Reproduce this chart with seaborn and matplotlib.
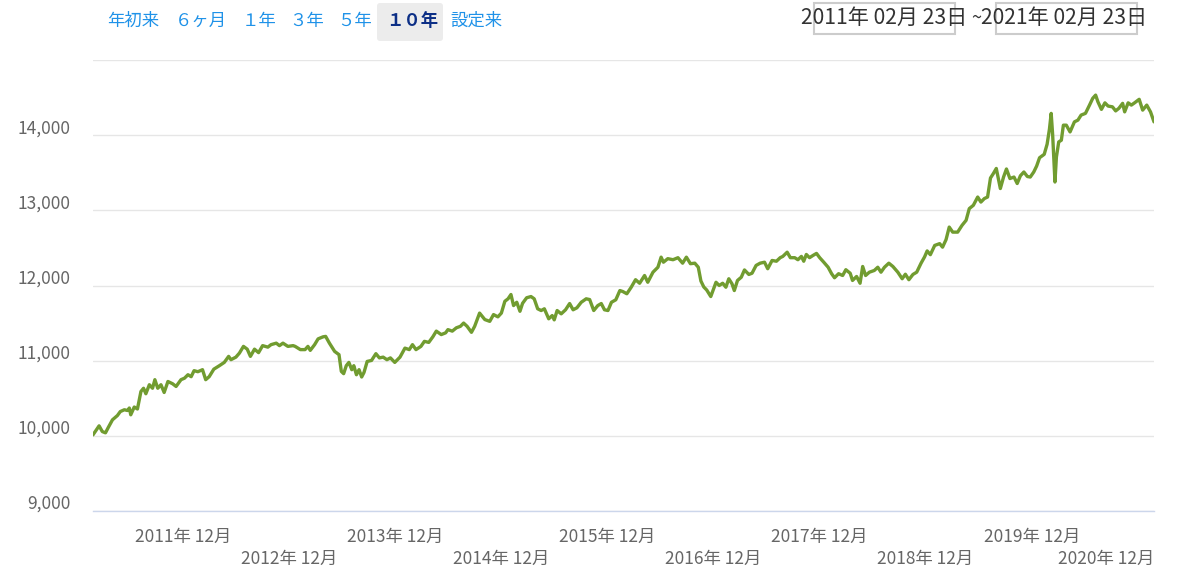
import numpy as np
import pandas as pd
import matplotlib
matplotlib.use("Agg")
import matplotlib.pyplot as plt
import matplotlib.transforms as mtransforms
from matplotlib.patches import FancyBboxPatch, Rectangle
from matplotlib.ticker import FuncFormatter
import seaborn as sns

# 基準価額
dates = [
    "2011-02-23", "2011-03-16", "2011-03-27", "2011-04-07", "2011-04-16", "2011-05-01", "2011-05-18",
    "2011-05-28", "2011-06-11", "2011-06-22", "2011-06-28", "2011-07-03", "2011-07-15", "2011-07-26",
    "2011-08-07", "2011-08-16", "2011-08-24", "2011-09-05", "2011-09-16", "2011-09-24", "2011-10-04",
    "2011-10-15", "2011-10-26", "2011-11-08", "2011-11-24", "2011-12-06", "2011-12-23", "2012-01-04",
    "2012-01-16", "2012-01-27", "2012-02-06", "2012-02-19", "2012-03-06", "2012-03-17", "2012-03-29",
    "2012-04-14", "2012-05-03", "2012-05-20", "2012-06-04", "2012-06-12", "2012-06-29", "2012-07-11",
    "2012-07-25", "2012-08-07", "2012-08-18", "2012-09-01", "2012-09-15", "2012-09-29", "2012-10-17",
    "2012-10-28", "2012-11-15", "2012-11-26", "2012-12-08", "2012-12-25", "2013-01-12", "2013-01-19",
    "2013-02-06", "2013-02-22", "2013-03-04", "2013-03-12", "2013-03-27", "2013-04-08", "2013-04-25",
    "2013-05-04", "2013-05-17", "2013-06-04", "2013-06-19", "2013-06-27", "2013-07-05", "2013-07-14",
    "2013-07-23", "2013-08-02", "2013-08-09", "2013-08-18", "2013-08-27", "2013-09-05", "2013-09-13",
    "2013-09-24", "2013-10-09", "2013-10-24", "2013-11-05", "2013-11-18", "2013-12-01", "2013-12-13",
    "2013-12-28", "2014-01-15", "2014-02-01", "2014-02-16", "2014-02-27", "2014-03-11", "2014-03-28",
    "2014-04-09", "2014-04-24", "2014-05-08", "2014-05-20", "2014-06-06", "2014-06-21", "2014-06-29",
    "2014-07-14", "2014-07-28", "2014-08-11", "2014-08-22", "2014-09-03", "2014-09-18", "2014-09-29",
    "2014-10-16", "2014-11-03", "2014-11-20", "2014-12-03", "2014-12-18", "2014-12-30", "2015-01-11",
    "2015-01-22", "2015-02-01", "2015-02-10", "2015-02-21", "2015-03-04", "2015-03-13", "2015-03-27",
    "2015-04-11", "2015-04-22", "2015-05-04", "2015-05-16", "2015-05-27", "2015-06-11", "2015-06-23",
    "2015-06-30", "2015-07-10", "2015-07-24", "2015-08-08", "2015-08-22", "2015-09-03", "2015-09-16",
    "2015-10-01", "2015-10-18", "2015-10-30", "2015-11-13", "2015-11-27", "2015-12-09", "2015-12-20",
    "2016-01-01", "2016-01-13", "2016-01-28", "2016-02-11", "2016-02-21", "2016-03-06", "2016-03-21",
    "2016-04-05", "2016-04-19", "2016-05-06", "2016-05-17", "2016-06-04", "2016-06-21", "2016-07-02",
    "2016-07-10", "2016-07-25", "2016-08-12", "2016-08-29", "2016-09-14", "2016-09-27", "2016-10-11",
    "2016-10-26", "2016-11-07", "2016-11-16", "2016-11-26", "2016-12-06", "2016-12-20", "2017-01-07",
    "2017-01-18", "2017-01-30", "2017-02-10", "2017-02-20", "2017-03-03", "2017-03-11", "2017-03-22",
    "2017-04-04", "2017-04-15", "2017-04-30", "2017-05-11", "2017-05-25", "2017-06-08", "2017-06-23",
    "2017-07-04", "2017-07-19", "2017-08-03", "2017-08-16", "2017-08-25", "2017-09-09", "2017-09-20",
    "2017-10-05", "2017-10-16", "2017-10-28", "2017-11-05", "2017-11-14", "2017-11-25", "2017-12-07",
    "2017-12-19", "2017-12-30", "2018-01-13", "2018-01-28", "2018-02-09", "2018-02-19", "2018-03-05",
    "2018-03-19", "2018-03-30", "2018-04-14", "2018-04-22", "2018-05-06", "2018-05-18", "2018-05-27",
    "2018-06-06", "2018-06-19", "2018-07-06", "2018-07-18", "2018-07-29", "2018-08-10", "2018-08-25",
    "2018-09-08", "2018-09-25", "2018-10-10", "2018-10-21", "2018-11-02", "2018-11-16", "2018-11-29",
    "2018-12-14", "2018-12-26", "2019-01-04", "2019-01-15", "2019-01-30", "2019-02-16", "2019-02-26",
    "2019-03-10", "2019-03-21", "2019-04-02", "2019-04-19", "2019-05-04", "2019-05-18", "2019-05-29",
    "2019-06-12", "2019-06-27", "2019-07-08", "2019-07-20", "2019-07-31", "2019-08-10", "2019-08-20",
    "2019-08-30", "2019-09-13", "2019-09-24", "2019-10-04", "2019-10-16", "2019-10-30", "2019-11-10",
    "2019-11-21", "2019-12-03", "2019-12-15", "2019-12-25", "2020-01-06", "2020-01-16", "2020-01-26",
    "2020-02-11", "2020-02-21", "2020-02-29", "2020-03-06", "2020-03-11", "2020-03-19", "2020-03-24",
    "2020-04-01", "2020-04-10", "2020-04-17", "2020-04-27", "2020-05-10", "2020-05-25", "2020-06-06",
    "2020-06-17", "2020-07-02", "2020-07-16", "2020-07-27", "2020-08-06", "2020-08-14", "2020-08-26",
    "2020-09-07", "2020-09-18", "2020-10-03", "2020-10-14", "2020-10-25", "2020-11-07", "2020-11-14",
    "2020-11-26", "2020-12-07", "2020-12-18", "2021-01-03", "2021-01-15", "2021-01-29", "2021-02-11",
    "2021-02-23",
]
values = [
    10013, 10133, 10057, 10040, 10107, 10213, 10270,
    10323, 10347, 10337, 10370, 10280, 10383, 10357,
    10590, 10633, 10560, 10680, 10633, 10747, 10633,
    10680, 10577, 10723, 10693, 10657, 10747, 10767,
    10813, 10787, 10867, 10853, 10880, 10747, 10787,
    10887, 10933, 10977, 11057, 11013, 11047, 11100,
    11190, 11153, 11057, 11153, 11107, 11200, 11180,
    11213, 11233, 11200, 11233, 11190, 11200, 11190,
    11147, 11147, 11190, 11137, 11213, 11290, 11317,
    11323, 11233, 11123, 11080, 10857, 10827, 10933,
    10977, 10880, 10933, 10813, 10880, 10783, 10843,
    10990, 11003, 11093, 11037, 11047, 11013, 11037,
    10977, 11047, 11167, 11147, 11213, 11147, 11190,
    11257, 11243, 11317, 11393, 11347, 11370, 11413,
    11393, 11437, 11457, 11500, 11457, 11377, 11457,
    11633, 11547, 11523, 11613, 11583, 11633, 11790,
    11823, 11880, 11733, 11777, 11657, 11763, 11837,
    11853, 11823, 11690, 11667, 11690, 11557, 11600,
    11543, 11667, 11623, 11677, 11760, 11677, 11703,
    11777, 11823, 11813, 11667, 11733, 11760, 11677,
    11667, 11777, 11810, 11933, 11920, 11890, 11977,
    12077, 12030, 12133, 12043, 12177, 12243, 12377,
    12310, 12357, 12343, 12370, 12297, 12377, 12290,
    12297, 12243, 12060, 11980, 11940, 11853, 12043,
    12000, 12030, 11977, 12090, 12023, 11933, 12067,
    12110, 12207, 12147, 12163, 12267, 12297, 12310,
    12223, 12333, 12323, 12370, 12387, 12443, 12370,
    12370, 12343, 12387, 12323, 12413, 12370, 12400,
    12427, 12370, 12310, 12243, 12157, 12103, 12157,
    12133, 12210, 12163, 12067, 12120, 12030, 12253,
    12133, 12177, 12200, 12243, 12177, 12243, 12297,
    12253, 12177, 12090, 12150, 12077, 12147, 12177,
    12297, 12380, 12460, 12410, 12533, 12557, 12510,
    12610, 12777, 12710, 12710, 12800, 12867, 13023,
    13067, 13177, 13110, 13157, 13177, 13430, 13490,
    13557, 13290, 13443, 13550, 13423, 13443, 13357,
    13460, 13510, 13450, 13443, 13510, 13590, 13700,
    13745, 13880, 14080, 14290, 14010, 13377, 13710,
    13910, 13933, 14133, 14133, 14043, 14177, 14200,
    14267, 14290, 14400, 14490, 14533, 14443, 14343,
    14430, 14387, 14377, 14323, 14357, 14423, 14310,
    14430, 14400, 14430, 14477, 14333, 14400, 14310,
    14177,
]

tick_dates = ["2011-12-30", "2012-12-28", "2013-12-30", "2014-12-30", "2015-12-30",
              "2016-12-30", "2017-12-29", "2018-12-28", "2019-12-30", "2020-12-30"]
tick_labels = ["2011年 12月", "2012年 12月", "2013年 12月", "2014年 12月", "2015年 12月",
               "2016年 12月", "2017年 12月", "2018年 12月", "2019年 12月", "2020年 12月"]
y_ticks = [9000, 10000, 11000, 12000, 13000, 14000, 15000]

range_buttons = ["年初来", "６ヶ月", "１年", "３年", "５年", "１０年", "設定来"]
selected_button = "１０年"
start_label = "2011年 02月 23日"
end_label = "2021年 02月 23日"

sns.set_theme(style="white")
plt.rcParams["font.family"] = ["Noto Sans CJK JP", "DejaVu Sans"]

df = pd.DataFrame({"date": pd.to_datetime(dates), "value": values})

W, H = 1178, 576
fig = plt.figure(figsize=(W / 100, H / 100), dpi=100)
ax = fig.add_axes([93 / W, 65 / H, 1061 / W, 451 / H])

sns.lineplot(data=df, x="date", y="value", ax=ax, color="#719c30", linewidth=2.4)

ax.set_xlim(pd.Timestamp(dates[0]), pd.Timestamp(dates[-1]))
ax.set_ylim(9000, 15000)
ax.set_xlabel("")
ax.set_ylabel("")

# grid + axes
ax.set_yticks(y_ticks)
ax.yaxis.set_major_formatter(FuncFormatter(lambda v, p: "" if v >= 15000 else f"{int(v):,}"))
ax.grid(axis="y", color="#e6e6e6", linewidth=1)
ax.grid(axis="x", visible=False)
for side in ["left", "right", "top"]:
    ax.spines[side].set_visible(False)
ax.spines["bottom"].set_color("#ccd6eb")
ax.spines["bottom"].set_linewidth(1)

ax.tick_params(axis="y", length=0, pad=16, labelsize=12.5, labelcolor="#666666")
ax.set_xticks(pd.to_datetime(tick_dates))
ax.set_xticklabels(tick_labels)
ax.tick_params(axis="x", length=11, width=1, color="#ccd6eb", pad=1,
               labelsize=12.5, labelcolor="#666666", direction="out")
ax.tick_params(axis="x", which="minor", length=0)

# labels sit above gridlines
up = mtransforms.ScaledTranslation(0, 9 / 100, fig.dpi_scale_trans)
for lab in ax.get_yticklabels():
    lab.set_transform(lab.get_transform() + up)
# staggered x labels, last one kept inside the plot
down = mtransforms.ScaledTranslation(0, -22 / 100, fig.dpi_scale_trans)
xlabels = ax.get_xticklabels()
for i, lab in enumerate(xlabels):
    if i % 2 == 1:
        lab.set_transform(lab.get_transform() + down)
xlabels[-1].set_transform(xlabels[-1].get_transform()
                          + mtransforms.ScaledTranslation(-32 / 100, 0, fig.dpi_scale_trans))

# range buttons
btn_x = [133.5, 201, 259, 306.5, 354.5, 412, 476.5]
box = FancyBboxPatch((377, H - 41), 66, 38, boxstyle="round,pad=0,rounding_size=3",
                     transform=mtransforms.IdentityTransform(), facecolor="#ececec",
                     edgecolor="none", figure=fig)
fig.patches.append(box)
for name, bx in zip(range_buttons, btn_x):
    if name == selected_button:
        fig.text(bx / W, 1 - 21 / H, name, ha="center", va="center", fontsize=12.5,
                 color="#0c2f86", fontweight="bold")
    else:
        fig.text(bx / W, 1 - 21 / H, name, ha="center", va="center", fontsize=12.5,
                 color="#1f92e8")

# date range inputs
for x0 in [814, 996]:
    r = Rectangle((x0, H - 34), 141, 31, transform=mtransforms.IdentityTransform(),
                  facecolor="none", edgecolor="#cccccc", linewidth=1.5, figure=fig)
    fig.patches.append(r)
fig.text(801 / W, 1 - 18 / H, start_label, ha="left", va="center", fontsize=15.2, color="#333333")
fig.text(976 / W, 1 - 18 / H, "~", ha="center", va="center", fontsize=13, color="#333333")
fig.text(981 / W, 1 - 18 / H, end_label, ha="left", va="center", fontsize=15.2, color="#333333")

fig.savefig("out.png", dpi=100)
